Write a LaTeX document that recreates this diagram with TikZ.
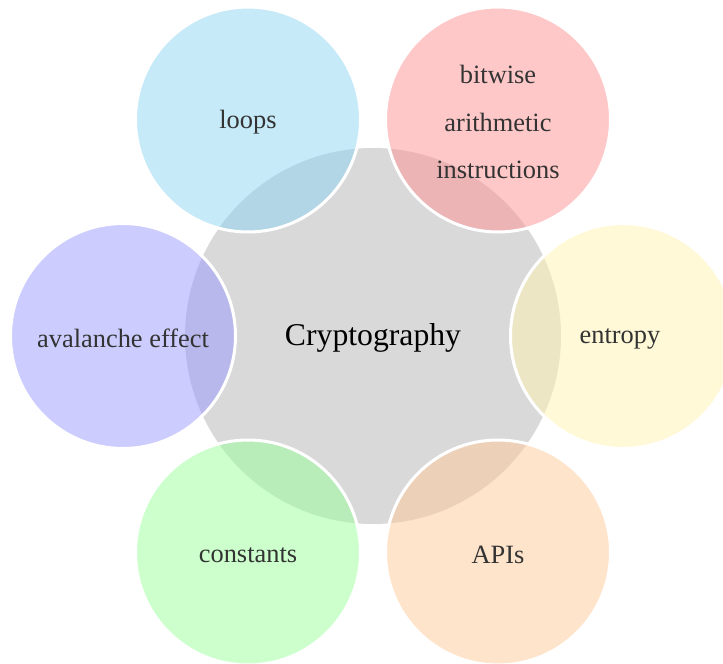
\documentclass[tikz,border=0pt]{standalone}
\usepackage{fontspec}
\setmainfont{Liberation Serif}
\definecolor{hubgray}{RGB}{217,217,217}
\definecolor{bubblue}{RGB}{141,213,241}
\definecolor{bubred}{RGB}{255,145,145}
\definecolor{bubyellow}{RGB}{255,243,177}
\definecolor{buborange}{RGB}{255,201,153}
\definecolor{bubgreen}{RGB}{153,255,153}
\definecolor{bubviolet}{RGB}{153,153,255}
\definecolor{labelgray}{RGB}{51,51,51}
\begin{document}
\begin{tikzpicture}[x=1bp,y=-1bp,
  hub/.style={circle, fill=hubgray, minimum size=376bp, inner sep=0pt},
  hubtext/.style={yshift=-2bp, text=black,
    font=\fontsize{31.7bp}{38bp}\selectfont},
  bubble/.style={circle, draw=white, line width=3bp, minimum size=225bp,
    inner sep=0pt, fill opacity=0.5, draw opacity=1},
  bubtext/.style={yshift=-2.5bp, align=center, text=labelgray,
    text opacity=1, fill opacity=0,
    font=\fontsize{26.4bp}{47.5bp}\selectfont}]
  \useasboundingbox (0,0) rectangle (723,664);
  \begin{scope}
    \clip (0,0) rectangle (723,664);
    % central topic
    \node[hub, label={[hubtext]center:Cryptography}] (hub) at (373,336) {};
    % surrounding bubbles, each with a white rim cut into the hub
    \node[bubble, fill=bubblue, label={[bubtext]center:loops}]
      (loops) at (248,119.5) {};
    \node[bubble, fill=bubred,
      label={[bubtext]center:bitwise\\arithmetic\\instructions}]
      (bitwise) at (498,119.5) {};
    \node[bubble, fill=bubyellow, label={[bubtext, xshift=-3bp]center:entropy}]
      (entropy) at (623,336) {};
    \node[bubble, fill=buborange, label={[bubtext]center:APIs}]
      (apis) at (498,552.5) {};
    \node[bubble, fill=bubgreen, label={[bubtext]center:constants}]
      (consts) at (248,552.5) {};
    \node[bubble, fill=bubviolet, label={[bubtext]center:avalanche effect}]
      (aval) at (123,336) {};
  \end{scope}
\end{tikzpicture}
\end{document}
